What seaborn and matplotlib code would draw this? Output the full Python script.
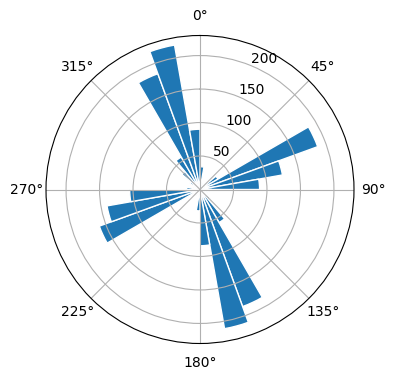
import numpy as np
import matplotlib
matplotlib.use("Agg")
import matplotlib.pyplot as plt
import seaborn as sns

# bin left edges (degrees, clockwise from north) and counts
bin_start_deg = list(range(0, 360, 10))
counts = [34, 10, 6, 8, 12, 31, 187, 125, 89, 18,
          12, 10, 14, 20, 57, 186, 211, 84, 32, 8,
          6, 10, 12, 14, 160, 141, 105, 20, 10, 12,
          18, 35, 56, 184, 219, 90]
bin_width_deg = 10

color = sns.color_palette("tab10")[0]

fig = plt.figure(figsize=(3.96, 3.8), dpi=100)
ax = fig.add_axes([46/396, 36.5/380, 308/396, 308/380], projection="polar")
ax.set_theta_zero_location("N")
ax.set_theta_direction(-1)
ax.bar(np.deg2rad(bin_start_deg), counts, width=np.deg2rad(bin_width_deg),
       align="edge", color=color, edgecolor="white", linewidth=1.0)
ax.set_yticks([50, 100, 150, 200])
fig.savefig("out.png", dpi=100)
